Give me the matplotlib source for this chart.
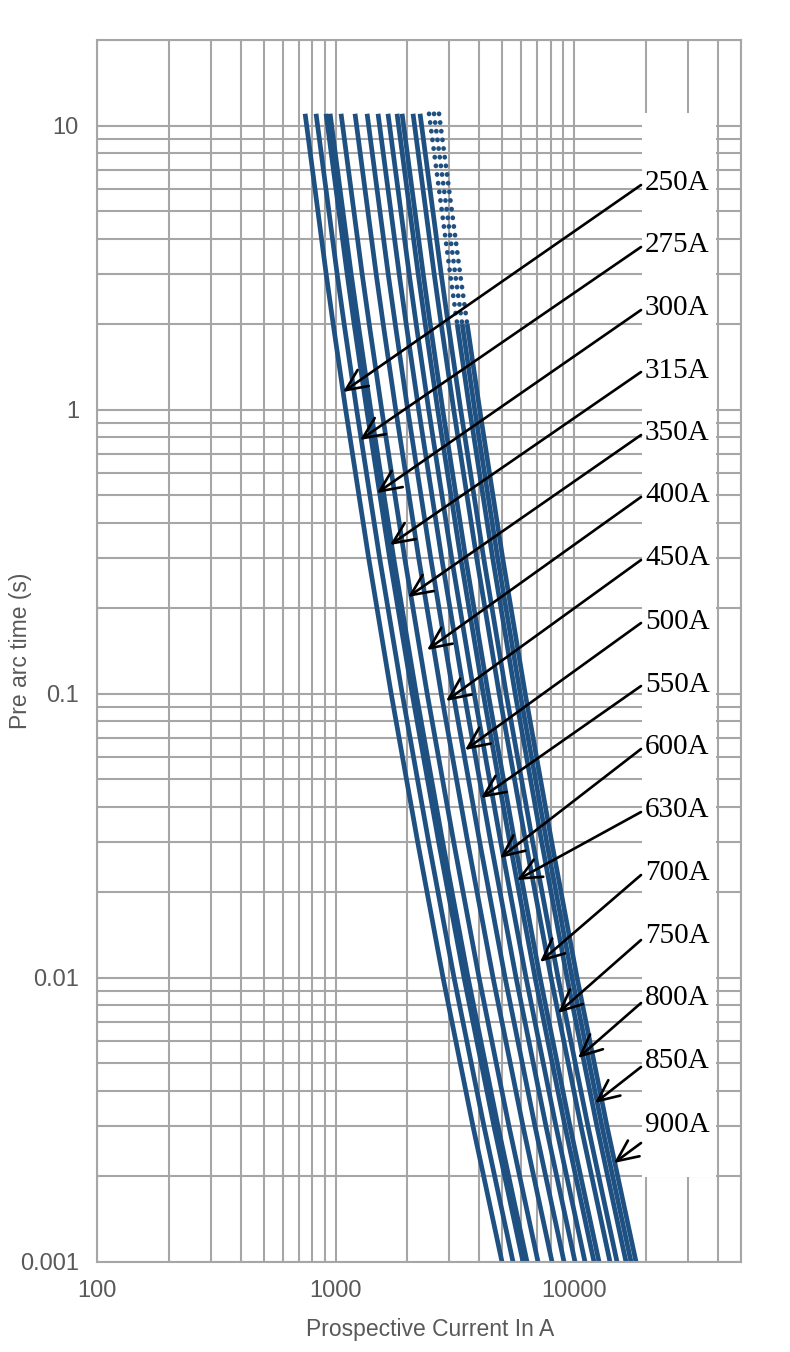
import matplotlib
matplotlib.use("Agg")
import matplotlib.pyplot as plt
from matplotlib.patches import Rectangle
from matplotlib.ticker import LogLocator, FixedLocator, FixedFormatter, NullFormatter

# ---------------- data ----------------
times = [11, 3, 2, 1, 0.3, 0.1, 0.03, 0.01, 0.003, 0.001]   # pre-arc time (s)

i_250 = [745, 913, 977, 1102, 1376, 1710, 2209, 2821, 3766, 4983]
i_275 = [828, 1015, 1086, 1225, 1530, 1902, 2456, 3137, 4188, 5541]
i_300 = [912, 1118, 1196, 1350, 1685, 2094, 2705, 3455, 4612, 6102]
i_315 = [948, 1162, 1244, 1403, 1752, 2177, 2812, 3591, 4794, 6343]
i_350 = [1054, 1292, 1383, 1560, 1948, 2420, 3127, 3993, 5330, 7053]
i_400 = [1206, 1479, 1583, 1786, 2230, 2771, 3579, 4571, 6102, 8074]
i_450 = [1355, 1661, 1778, 2005, 2504, 3111, 4019, 5133, 6852, 9066]
i_500 = [1506, 1847, 1976, 2229, 2784, 3459, 4469, 5707, 7619, 10081]
i_550 = [1658, 2034, 2176, 2455, 3065, 3809, 4921, 6284, 8389, 11100]
i_600 = [1809, 2219, 2374, 2678, 3344, 4156, 5368, 6856, 9152, 12110]
i_630 = [1899, 2329, 2492, 2811, 3509, 4361, 5634, 7195, 9605, 12709]
i_700 = [2111, 2589, 2770, 3125, 3902, 4849, 6264, 7999, 10679, 14130]
i_750 = [2259, 2770, 2964, 3343, 4175, 5188, 6702, 8559, 11426, 15118]
i_800 = [2463, 3021, 3233, 3646, 4553, 5658, 7309, 9334, 12461, 16488]
i_850 = [2585, 3171, 3393, 3827, 4778, 5938, 7671, 9797, 13078, 17304]
i_900 = [2713, 3327, 3560, 4016, 5014, 6232, 8050, 10280, 13724, 18159]

ratings = ["250A", "275A", "300A", "315A", "350A", "400A", "450A", "500A",
           "550A", "600A", "630A", "700A", "750A", "800A", "850A", "900A"]
currents = [i_250, i_275, i_300, i_315, i_350, i_400, i_450, i_500,
            i_550, i_600, i_630, i_700, i_750, i_800, i_850, i_900]
dotted_top = ["800A", "850A", "900A"]   # upper part (t > 2 s) drawn dotted

x_ticks = [100, 1000, 10000]
x_tick_labels = ["100", "1000", "10000"]
y_ticks = [0.001, 0.01, 0.1, 1, 10]
y_tick_labels = ["0.001", "0.01", "0.1", "1", "10"]

# ---------------- figure ----------------
W, H = 790, 1352
fig = plt.figure(figsize=(W / 100, H / 100), dpi=100)
L, R, T, B = 97, 741, 40, 1262
ax = fig.add_axes([L / W, 1 - B / H, (R - L) / W, (B - T) / H])

def af(px, py):
    """reference pixel -> axes fraction"""
    return ((px - L) / (R - L), (B - py) / (B - T))

ax.set_xscale("log")
ax.set_yscale("log")
ax.set_xlim(100, 50000)
ax.set_ylim(0.001, 20)

grid_col = "#a6a6a6"
ax.xaxis.set_major_locator(FixedLocator(x_ticks))
ax.xaxis.set_major_formatter(FixedFormatter(x_tick_labels))
ax.yaxis.set_major_locator(FixedLocator(y_ticks))
ax.yaxis.set_major_formatter(FixedFormatter(y_tick_labels))
ax.xaxis.set_minor_locator(LogLocator(base=10, subs=range(2, 10)))
ax.yaxis.set_minor_locator(LogLocator(base=10, subs=range(2, 10)))
ax.xaxis.set_minor_formatter(NullFormatter())
ax.yaxis.set_minor_formatter(NullFormatter())
ax.grid(True, which="both", color=grid_col, lw=1.5)
ax.set_axisbelow(True)
ax.tick_params(which="both", length=0)
ax.tick_params(axis="both", labelsize=17, labelcolor="#595959", pad=13)
for lab in ax.get_xticklabels() + ax.get_yticklabels():
    lab.set_family("Liberation Sans")
for s in ax.spines.values():
    s.set_color(grid_col)
    s.set_linewidth(1.5)

ax.set_xlabel("Prospective Current In A", fontsize=16.5, color="#595959",
              family="Liberation Sans")
ax.set_ylabel("Pre arc time (s)", fontsize=16.5, color="#595959",
              family="Liberation Sans")
ax.xaxis.set_label_coords((430 - L) / (R - L), (B - 1318) / (B - T))
ax.yaxis.set_label_coords((32 - L) / (R - L), 0.5)

# white box behind the rating labels
x0, y0 = af(642, 1177)
ax.add_patch(Rectangle((x0, y0), 74 / (R - L), (1177 - 113) / (B - T),
                       transform=ax.transAxes, facecolor="white",
                       edgecolor="none", zorder=1.5))

curve_col = "#1f5082"
lw_c = 3.4
for name, cur in zip(ratings, currents):
    if name in dotted_top:
        ax.plot(cur[:3], times[:3], color=curve_col, lw=lw_c,
                linestyle=(0, (0.05, 1.8)), dash_capstyle="round", zorder=2)
        ax.plot(cur[2:], times[2:], color=curve_col, lw=lw_c,
                solid_capstyle="butt", zorder=2)
    else:
        ax.plot(cur, times, color=curve_col, lw=lw_c,
                solid_capstyle="butt", zorder=2)

# labels and arrows (positions in reference pixels)
label_y = [183, 245, 308, 371, 433, 495, 558, 622, 685, 747, 810, 873, 936,
           998, 1061, 1125]
tail_y = [185, 247, 310, 372, 435, 497, 560, 623, 686, 749, 812, 875, 940,
          1003, 1067, 1143]
heads = [(343, 392), (360, 440), (377, 493), (390, 545), (408, 597),
         (427, 650), (446, 701), (465, 750), (481, 798), (500, 858),
         (517, 880), (540, 962), (558, 1013), (578, 1058), (595, 1103),
         (614, 1163)]
for name, ly, ty, hd in zip(ratings, label_y, tail_y, heads):
    ax.text(*af(645, ly), name, transform=ax.transAxes, ha="left", va="center",
            fontsize=21, family="Liberation Serif", color="black", zorder=4)
    ax.annotate("", xy=af(*hd), xytext=af(641, ty), xycoords="axes fraction",
                textcoords="axes fraction",
                arrowprops=dict(arrowstyle="->,head_length=0.7,head_width=0.32",
                                color="black", lw=1.9, mutation_scale=22,
                                shrinkA=0, shrinkB=0), zorder=4)

fig.savefig("out.png", dpi=100)
